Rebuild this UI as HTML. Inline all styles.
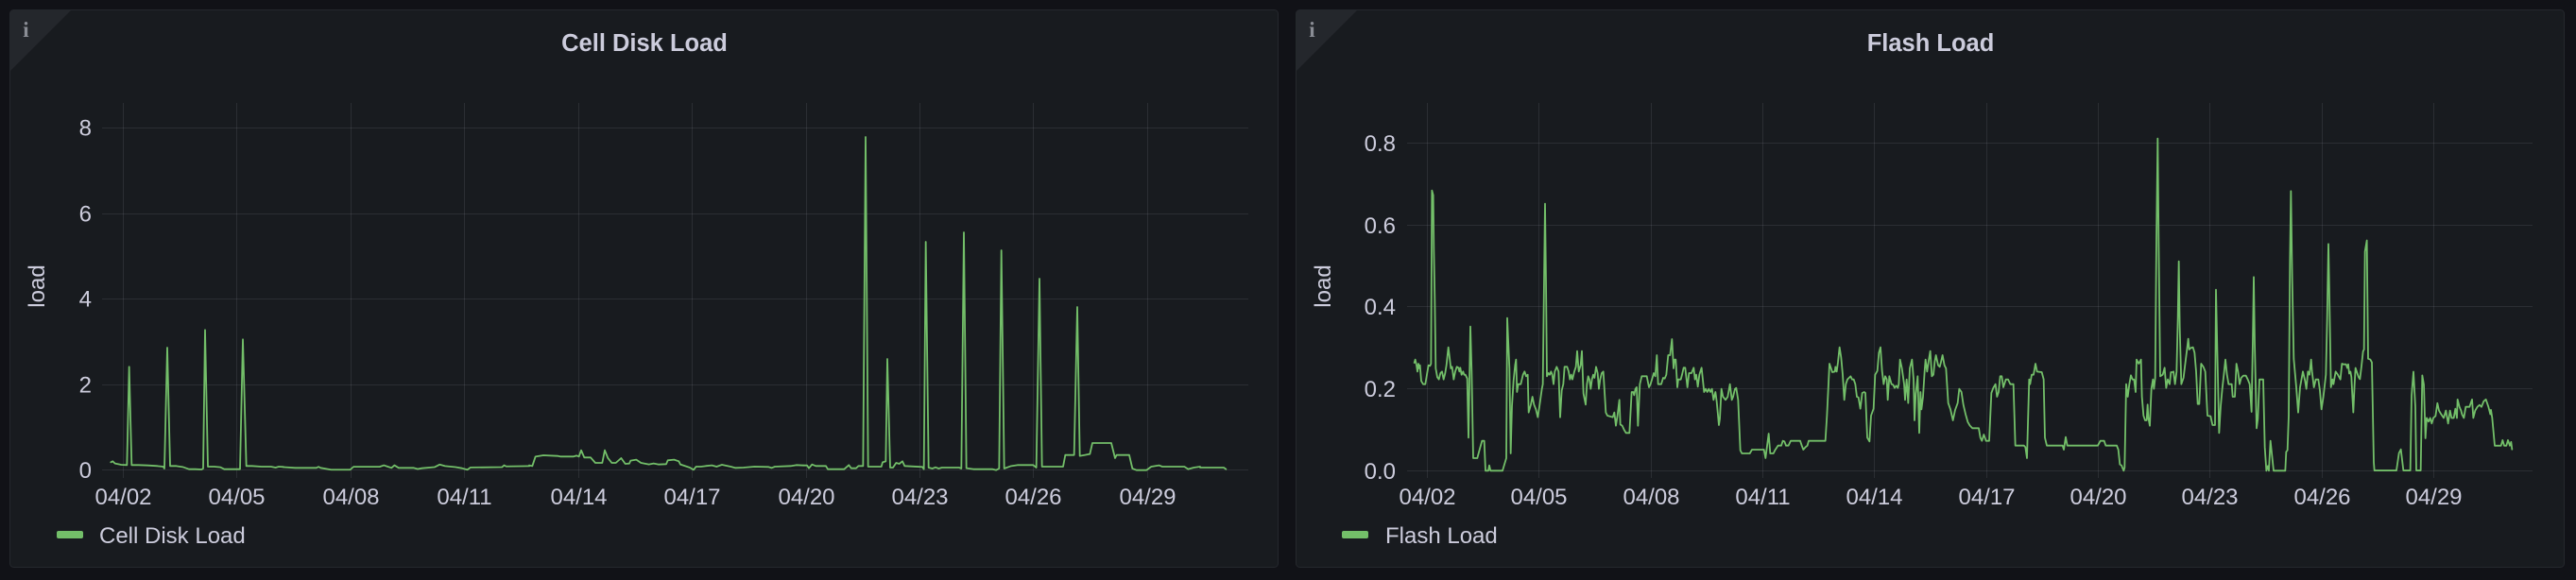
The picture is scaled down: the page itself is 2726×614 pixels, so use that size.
<!DOCTYPE html>
<html><head><meta charset="utf-8"><style>
html,body{margin:0;padding:0;background:#111217;}
svg{display:block;}
text{font-family:"Liberation Sans",sans-serif;}
</style></head><body>
<svg width="2726" height="614" viewBox="0 0 2726 614" xmlns="http://www.w3.org/2000/svg">
<rect x="0" y="0" width="2726" height="614" fill="#111217"/>
<defs>
<clipPath id="c1"><rect x="10.5" y="10.5" width="1342" height="590" rx="4"/></clipPath>
<clipPath id="c2"><rect x="1371.5" y="10.5" width="1342" height="590" rx="4"/></clipPath>
</defs>
<!-- panels -->
<rect x="10.5" y="10.5" width="1342" height="590" rx="4" fill="#181b1f" stroke="#25282d" stroke-width="1"/>
<rect x="1371.5" y="10.5" width="1342" height="590" rx="4" fill="#181b1f" stroke="#25282d" stroke-width="1"/>
<path d="M10,10 L76,10 L10,76 Z" fill="#24272c" clip-path="url(#c1)"/>
<path d="M1371,10 L1437,10 L1371,76 Z" fill="#24272c" clip-path="url(#c2)"/>
<text x="27.5" y="39" style="font-family:'Liberation Serif',serif;font-weight:bold;font-size:23px" fill="#8a8d95" text-anchor="middle">i</text>
<text x="1388.5" y="39" style="font-family:'Liberation Serif',serif;font-weight:bold;font-size:23px" fill="#8a8d95" text-anchor="middle">i</text>
<!-- titles -->
<text x="682" y="54" font-size="25.5" font-weight="bold" fill="#ccccdc" text-anchor="middle">Cell Disk Load</text>
<text x="2043" y="54" font-size="25.5" font-weight="bold" fill="#ccccdc" text-anchor="middle">Flash Load</text>

<!-- grids -->
<g stroke="rgba(204,204,220,0.11)" stroke-width="1" fill="none">
<path d="M108,497.5H1321 M108,407.5H1321 M108,316.5H1321 M108,226.5H1321 M108,135.5H1321"/>
<path d="M130.5,109V506 M250.5,109V506 M371.5,109V506 M491.5,109V506 M612.5,109V506 M732.5,109V506 M853.5,109V506 M973.5,109V506 M1093.5,109V506 M1214.5,109V506"/>
<path d="M1489,498.5H2680 M1489,411.5H2680 M1489,324.5H2680 M1489,238.5H2680 M1489,151.5H2680"/>
<path d="M1510.5,109V506 M1628.5,109V506 M1747.5,109V506 M1865.5,109V506 M1983.5,109V506 M2102.5,109V506 M2220.5,109V506 M2338.5,109V506 M2457.5,109V506 M2575.5,109V506"/>
</g>

<!-- y labels -->
<g font-size="24" fill="#ccccdc" text-anchor="end">
<text x="97" y="506">0</text>
<text x="97" y="415.5">2</text>
<text x="97" y="324.5">4</text>
<text x="97" y="234.5">6</text>
<text x="97" y="143.5">8</text>
</g>
<g font-size="24" fill="#ccccdc" text-anchor="end">
<text x="1477" y="507">0.0</text>
<text x="1477" y="420">0.2</text>
<text x="1477" y="333">0.4</text>
<text x="1477" y="247">0.6</text>
<text x="1477" y="160">0.8</text>
</g>
<!-- x labels -->
<g font-size="24" fill="#ccccdc" text-anchor="middle">
<text x="130.5" y="534">04/02</text>
<text x="250.5" y="534">04/05</text>
<text x="371.5" y="534">04/08</text>
<text x="491.5" y="534">04/11</text>
<text x="612.5" y="534">04/14</text>
<text x="732.5" y="534">04/17</text>
<text x="853.5" y="534">04/20</text>
<text x="973.5" y="534">04/23</text>
<text x="1093.5" y="534">04/26</text>
<text x="1214.5" y="534">04/29</text>
</g>
<g font-size="24" fill="#ccccdc" text-anchor="middle">
<text x="1510.5" y="534">04/02</text>
<text x="1628.5" y="534">04/05</text>
<text x="1747.5" y="534">04/08</text>
<text x="1865.5" y="534">04/11</text>
<text x="1983.5" y="534">04/14</text>
<text x="2102.5" y="534">04/17</text>
<text x="2220.5" y="534">04/20</text>
<text x="2338.5" y="534">04/23</text>
<text x="2457.5" y="534">04/26</text>
<text x="2575.5" y="534">04/29</text>
</g>
<!-- axis titles -->
<text transform="translate(47,303) rotate(-90)" font-size="24" fill="#ccccdc" text-anchor="middle">load</text>
<text transform="translate(1408,303) rotate(-90)" font-size="24" fill="#ccccdc" text-anchor="middle">load</text>

<!-- legends -->
<rect x="60" y="562" width="28" height="8" rx="2" fill="#73bf69"/>
<text x="105" y="575" font-size="24" fill="#ccccdc">Cell Disk Load</text>
<rect x="1420" y="562" width="28" height="8" rx="2" fill="#73bf69"/>
<text x="1466" y="575" font-size="24" fill="#ccccdc">Flash Load</text>

<!-- LEFT series -->
<g fill="none" stroke="#73bf69" stroke-width="1.8" stroke-linejoin="round" stroke-linecap="round">
<g transform="translate(0,400) scale(0.33333)">
<polyline vector-effect="non-scaling-stroke" points="352,268 358,265 365,272 385,276 403,277 410,-35 418,277 440,277 470,278 500,280 518,282 522,288 531,-96 540,280 560,280 580,283 600,290 620,290 640,291 645,288 651,-152 660,282 680,282 700,284 712,290 740,290 762,290 771,-122 782,280 800,280 830,282 860,282 875,285 885,282 900,283"/>
</g>
<g transform="scale(0.446429,0.391543)">
<polyline vector-effect="non-scaling-stroke" points="672,1263 700,1265 750,1265 755,1262 760,1265 785,1270 830,1270 838,1262 900,1262 910,1258 920,1262 928,1265 935,1258 945,1265 980,1265 990,1268 1000,1266 1030,1263 1042,1256 1055,1260 1080,1263 1095,1266 1108,1270 1115,1264 1190,1263 1195,1258 1200,1261 1255,1260"/>
</g>
<g transform="translate(560,440) scale(0.33333)">
<polyline vector-effect="non-scaling-stroke" points="0,158 10,160 20,130 45,126 90,128 100,130 140,130 150,127 158,130 165,110 175,133 195,133 210,150 232,150 240,110 250,135 262,150 275,150 292,135 305,153 318,152 322,143 340,140 355,150 380,155 395,152 410,155 435,154 440,142 460,140 475,145 480,155 510,165 522,172 530,162 545,162 560,160 580,158 595,162 612,156 640,162 655,166 680,165 715,162 760,163 770,166 780,162 830,160 848,157 870,158"/>
</g>
<g transform="translate(850,120) scale(0.33333)">
<polyline vector-effect="non-scaling-stroke" points="0,1118 12,1118 18,1127 28,1115 40,1120 72,1120 78,1130 130,1130 145,1117 152,1127 168,1127 175,1120 190,1120 198,75 206,1122 248,1122 252,1108 262,1105 267,780 276,1125 285,1125 295,1110 305,1113 315,1105 322,1120 378,1123 383,1130 389,408 398,1125 410,1128 420,1124 430,1128 440,1125 495,1125 502,1128 510,378 518,1127 540,1130 600,1130 612,1133 622,1128 629,435 638,1128 660,1120 680,1117 730,1117 740,1125 750,525 758,1122 825,1122 832,1085 860,1085 870,615 878,1088 895,1085 910,1082 918,1047 978,1047 990,1095 995,1085 1035,1085 1045,1128 1058,1133 1090,1133 1105,1122 1130,1118 1140,1122 1210,1122 1222,1130 1240,1125 1260,1122"/>
</g>
<g transform="translate(1180,380) scale(0.33333)">
<polyline vector-effect="non-scaling-stroke" points="270,345 345,345 352,350"/>
</g>
</g>

<!-- RIGHT series -->
<g fill="none" stroke="#73bf69" stroke-width="1.8" stroke-linejoin="round" stroke-linecap="round">
<g transform="translate(1480,130) scale(0.33333)">
<polyline vector-effect="non-scaling-stroke" points="50,762 53,752 57,770 60,790 63,765 66,780 68,770 72,820 78,830 85,830 90,800 95,770 100,772 103,765 106,215 110,230 112,400 115,560 118,780 123,808 128,815 133,795 138,790 143,815 148,795 152,770 158,713 162,745 166,780 170,775 175,815 180,790 185,775 190,778 193,790 196,778 200,800 205,790 208,800 212,800 218,812 222,1000 228,647 232,790 237,1065 250,1065 258,1035 265,1010 272,1010 276,1105 285,1105 288,1088 292,1105 330,1105 342,1065 345,620 352,780 356,1050 360,900 365,820 370,770 373,752 376,855 380,830 388,830 395,800 400,790 405,805 410,800 413,920 420,895 425,870 430,895 436,910 442,935 448,895 455,845 458,830 462,500 465,257 468,500 471,805 476,795 480,800 484,790 488,800 492,830 496,790 502,775 508,790 513,935 518,850 523,830 527,775 535,775 540,790 544,815 548,800 552,815 558,790 563,775 567,725 572,790 578,770 582,725 587,860 594,895 598,830 602,805 606,815 610,845 614,815 618,800 622,810 627,775 632,795 636,845 640,815 645,795 650,790 655,870 658,920 663,930 680,935 685,920 690,962 695,930 701,880 704,958 710,962 716,975 722,985 733,985 740,855 745,855 748,865 752,845 756,840 760,962 766,830 772,805 788,805 795,840 800,830 806,810 810,795 815,805 820,738 824,830 834,830 840,810 845,812 850,800 856,738 862,738 868,687 873,780 876,752 880,752 885,840 888,815 896,815 900,800 905,778 910,778 917,840 922,795 930,795 937,778 941,815 945,800 950,838 955,800 962,778 970,855 975,845 980,855 985,845 990,855 995,845 1000,880 1006,855 1010,885 1017,960 1020,940 1025,845 1030,870 1038,880 1045,870 1052,830 1058,880 1062,870 1068,845 1072,842 1078,880 1085,1040 1090,1050 1115,1050 1122,1038 1160,1038 1165,1065 1175,987 1180,1050 1190,1050 1195,1040 1205,1025 1215,1025 1220,1010 1225,1012 1230,1025"/>
</g>
<g transform="translate(1890,130) scale(0.33333)">
<polyline vector-effect="non-scaling-stroke" points="0,1025 8,1025 15,1010 45,1010 50,1025 55,1038 62,1030 68,1025 72,1010 125,1010 130,930 138,765 143,780 147,792 155,790 157,775 161,790 165,760 170,713 175,745 180,800 185,880 190,830 195,815 205,805 210,815 215,815 220,830 225,870 230,872 236,908 242,858 248,855 252,858 258,1000 265,1012 270,930 278,908 283,800 290,788 295,730 300,713 305,788 310,830 315,805 320,815 323,880 328,805 335,830 340,832 345,842 350,835 355,842 358,830 362,752 368,780 375,830 378,880 383,815 388,890 393,780 400,752 405,815 408,945 412,860 418,805 423,985 427,855 430,910 435,870 440,790 443,752 448,790 453,755 458,725 463,805 468,800 472,760 476,738 483,770 488,775 492,760 497,738 503,770 508,780 515,890 522,910 530,945 537,912 545,890 550,845 557,855 563,895 570,925 577,950 584,962 592,970 612,970 617,1000 622,1010 628,990 635,1010 645,1010 652,858 658,842 665,830 670,870 675,855 680,805 685,805 690,840 698,815 705,815 712,830 722,830 728,1025 755,1025 760,1030 765,1065 772,815 775,830 780,800 786,800 792,765 797,790 812,792 818,815 822,1000 828,1025 878,1025 882,1038 888,998 893,1025 990,1025 998,1010 1010,1010 1015,1025 1050,1025 1055,1038 1060,1085 1065,1088 1072,1105 1075,1095 1080,830 1085,870 1090,830 1095,802 1100,815 1105,815 1110,855 1113,752 1120,765 1127,752 1130,870 1135,930 1140,945 1145,945 1148,895 1150,935 1155,962 1160,845 1165,815 1168,845 1172,810 1176,370 1180,50 1183,370 1188,805 1196,800 1202,778 1207,842 1212,815 1218,830 1222,792 1230,792"/>
</g>
<g transform="translate(2300,130) scale(0.33333)">
<polyline vector-effect="non-scaling-stroke" points="0,790 5,830 10,790 14,620 17,440 20,650 25,830 32,810 38,760 43,720 47,686 50,720 55,715 62,713 67,730 72,790 77,893 82,893 88,765 95,775 101,790 108,930 118,932 124,960 132,960 135,530 140,760 145,985 150,900 155,845 160,800 165,752 170,800 175,830 185,830 188,870 195,870 200,765 205,790 210,830 215,810 222,803 230,803 236,815 242,830 248,918 252,690 255,490 258,700 264,970 268,940 273,815 285,815 290,1030 295,1105 300,1090 303,1105 308,1010 318,1105 355,1105 358,1045 362,1040 366,930 370,430 373,217 377,500 382,750 390,840 396,920 402,840 411,790 418,820 422,845 427,790 432,800 437,752 440,790 446,840 452,815 460,815 465,850 470,910 476,870 484,800 488,620 492,385 496,600 500,840 505,815 508,830 515,790 522,800 530,815 535,765 540,767"/>
</g>
<g transform="translate(2480,0) scale(0.33333,0.391543)">
<polyline vector-effect="non-scaling-stroke" points="0,985 8,985 12,995 15,985 18,1010 22,1005 25,1020 28,1070 31,1115 35,1040 38,995 42,1005 48,1020 52,1025 57,990 62,950 65,945 68,680 74,650 78,970 85,972 90,980 96,1250 98,1272 168,1272 176,1225 182,1215 190,1272 212,1272 216,1070 222,1005 228,1100 231,1272 245,1272 250,1015 255,1040 260,1185 264,1130 270,1140 275,1130 280,1145 285,1130 292,1125 298,1090 303,1110 310,1120 318,1130 325,1110 332,1145 338,1110 343,1130 350,1130 355,1105 360,1130 362,1080 368,1100 373,1110 376,1120 382,1130 388,1100 400,1100 408,1080 412,1130 418,1110 425,1100 432,1095 438,1100 445,1085 452,1080 460,1100 466,1120 468,1108 472,1130 480,1205 500,1205 505,1190 510,1205 517,1205 522,1190 528,1205 532,1195 535,1215"/>
</g>
</g>
</svg>
</body></html>
